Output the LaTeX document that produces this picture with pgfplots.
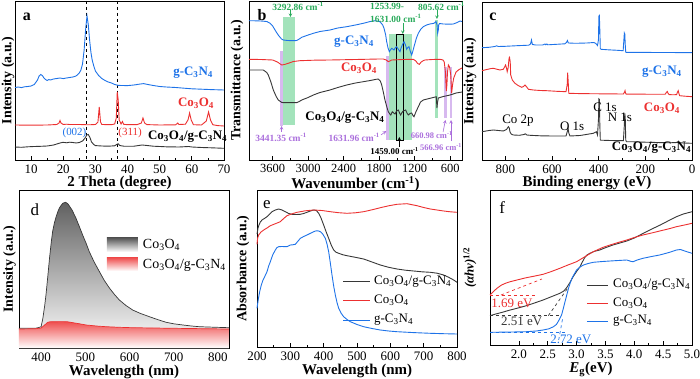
\documentclass[border=0pt]{standalone}
\usepackage{fontspec}
\setmainfont{Liberation Serif}
\usepackage{pgfplots}
\pgfplotsset{compat=1.18}
\definecolor{myblue}{RGB}{30,115,232}
\definecolor{myred}{RGB}{236,48,48}
\definecolor{mydark}{RGB}{55,55,55}
\definecolor{bandgreen}{RGB}{140,220,170}
\definecolor{bandpurple}{RGB}{205,168,235}
\definecolor{txtgreen}{RGB}{40,170,90}
\definecolor{txtpurple}{RGB}{170,110,220}
\newcommand{\CN}{g-C\textsubscript{3}N\textsubscript{4}}
\newcommand{\CO}{Co\textsubscript{3}O\textsubscript{4}}
\newcommand{\fs}[1]{\fontsize{#1}{#1}\selectfont}
\pgfplotsset{
  panel/.style={
    scale only axis, y dir=reverse, ytick=\empty, clip=false,
    xtick pos=left, tick align=inside, major tick length=4bp, minor tick length=2.2bp,
    minor x tick num=1,
    axis line style={line width=0.8bp},
    every tick/.style={black, line width=0.7bp},
    tick label style={font=\fs{13}},
    xticklabel style={anchor=north, inner sep=0pt, yshift=-5bp},
    /pgf/number format/assume math mode=true,
    /pgf/number format/1000 sep={},
    label style={font=\bfseries\fs{15}},
    xlabel style={at={(axis description cs:0.5,0)}, anchor=base, yshift=-27bp},
    ylabel style={font=\bfseries\fs{14}, inner sep=0.5bp},
    every axis plot/.append style={no marks, line width=0.9bp},
  },
}
\begin{document}
\begin{tikzpicture}
\path[use as bounding box] (0,0) rectangle (700bp,379bp);
% ---------------- a
\begin{axis}[panel, at={(15bp,219bp)}, anchor=south west, width=209bp, height=159bp,
  xmin=5, xmax=70, ymin=1, ymax=160, xtick={10,20,...,70},
  xlabel={2 Theta (degree)}, ylabel={Intensity (a.u.)},
  ylabel style={at={(axis description cs:0,0.5)}, anchor=south}]
\draw[dashed, black, line width=0.9bp] (axis cs:27.3,1) -- (axis cs:27.3,160);
\draw[dashed, black, line width=0.9bp] (axis cs:36.9,1) -- (axis cs:36.9,160);
\addplot[myblue] coordinates {(5,87.5)(6,87)(7,87.6)(8,86.8)(9,86.5)(10,86)(11,84.5)(12,80)(12.5,76)(13,74.5)(13.5,75.5)(14,78)(14.5,79.5)(15,80.5)(15.5,79.5)(16,80)(17,79)(18,78.5)(19,78)(20,78.6)(21,78)(22,77.5)(23,77)(24,76)(25,73)(25.5,70)(26,64)(26.5,50)(27,28)(27.4,16)(27.8,25)(28.2,40)(28.6,52)(29,60)(29.5,66)(30,71)(31,75.5)(32,78.5)(33,80.5)(34,82)(35,83)(36,84.5)(37,85.3)(38,85.5)(40,85.6)(42,85)(44,84)(45,83.6)(46,84.3)(48,85.5)(50,86.5)(52,87)(55,87.5)(58,88.3)(60,88.8)(63,89.2)(66,89.6)(70,90)};
\addplot[myred] coordinates {(5,125)(10,125.2)(15,125)(18,124.5)(18.7,123)(19,120.5)(19.3,123)(20,124.5)(21,124.2)(22,124.5)(25,124.5)(28,124.8)(30,124.5)(30.8,122)(31.2,107)(31.6,122)(32,124.5)(35,124.7)(36,124)(36.5,118)(36.8,92)(37.1,100)(37.4,120)(38,124)(38.4,121.5)(38.8,124.3)(40,124.7)(43,124.6)(44.3,123)(44.8,118)(45.3,123)(46,124.6)(50,125)(55,124.8)(55.6,123)(56,124.5)(58,124.2)(58.8,120)(59.3,113)(59.8,120)(60.5,124.7)(63,125)(64.5,121)(65.2,112)(65.8,120)(66.5,124.7)(68,125.6)(70,126)};
\addplot[mydark] coordinates {(5,147)(7,147.3)(9,146.8)(11,146.5)(13,146.3)(15,146)(17,145)(18,144)(19,143)(20,142.3)(21,142.8)(22,142.2)(23,142.5)(24,143)(25,142.5)(26,141)(26.8,138)(27.3,135)(27.8,134.5)(28.3,137.5)(28.8,142)(29.5,144.5)(30,145.6)(32,146)(34,146.2)(36,145.8)(36.7,144.3)(37.1,143.8)(37.6,145.5)(39,146.3)(42,146.2)(44.5,145)(45.5,145.3)(48,146.2)(52,146.8)(56,147)(59,146.5)(60,147)(63,147.5)(66,147.8)(70,148.3)};
\node[font=\bfseries\fs{16}] at (axis cs:8.7,17) {a};
\node[font=\bfseries\fs{13}, text=myblue] at (axis cs:60.4,73) {\CN};
\node[font=\bfseries\fs{13}, text=myred] at (axis cs:61.3,103) {\CO};
\node[font=\fs{11}, text=myblue] at (axis cs:23.5,133) {(002)};
\node[font=\fs{11}, text=myred] at (axis cs:40.8,133) {(311)};
\node[font=\bfseries\fs{13}] at (axis cs:58.7,136.5) {\CO/\CN};
\end{axis}
% ---------------- b
\begin{axis}[panel, at={(249bp,219bp)}, anchor=south west, width=213bp, height=159bp,
  xmin=400, xmax=4000, x dir=reverse, ymin=1, ymax=160, xtick={600,1200,...,3600},
  tick label style={font=\fs{12.5}},
  xticklabel style={yshift=1bp},
  xlabel={Wavenumber (cm\textsuperscript{-1})}, ylabel={Transmittance (a.u.)},
  xlabel style={yshift=-1.5bp},
  ylabel style={at={(axis description cs:-0.023,0.5)}, anchor=south}]
\fill[bandgreen, opacity=0.8] (axis cs:3420,17) rectangle (axis cs:3220,125);
\fill[bandpurple, opacity=0.8] (axis cs:3475,51) rectangle (axis cs:3425,126);
\fill[bandpurple, opacity=0.8] (axis cs:1690,56) rectangle (axis cs:1635,140);
\fill[bandgreen, opacity=0.8] (axis cs:1635,34) rectangle (axis cs:1250,140);
\fill[bandgreen, opacity=0.8] (axis cs:850,20) rectangle (axis cs:800,118);
\fill[bandpurple, opacity=0.8] (axis cs:700,67) rectangle (axis cs:660,118);
\fill[bandpurple, opacity=0.8] (axis cs:605,67) rectangle (axis cs:565,118);
\draw[black, line width=0.6bp] (axis cs:1515,34) rectangle (axis cs:1395,140);
\addplot[myblue] coordinates {(4000,20.7)(3900,20.8)(3800,21)(3700,21.5)(3650,23)(3600,26)(3550,31)(3500,35.5)(3450,39)(3420,40)(3350,40.5)(3250,40.7)(3194,40.5)(3150,39)(3109,37.3)(3000,35)(2913,33.3)(2800,31.5)(2631,30)(2500,28)(2349,26.7)(2200,25)(2068,23.3)(1950,21.5)(1870,20.7)(1786,21.7)(1740,25)(1718,28.3)(1690,35)(1673,41.7)(1650,48)(1628,51.7)(1610,50)(1588,48.3)(1570,49)(1549,50)(1525,47.5)(1504,46.7)(1476,49.3)(1448,51.7)(1430,48)(1409,45)(1380,41.7)(1355,45)(1335,49.3)(1315,47.5)(1296,46.7)(1270,52)(1250,55)(1230,51)(1211,46.7)(1170,38)(1138,33.3)(1100,29.5)(1054,26.7)(1000,25)(941,24)(873,23.3)(839,21.5)(822,25)(811,33.3)(800,30)(794,25)(780,23.5)(716,24)(600,24.2)(547,24)(480,22.5)(434,21)(400,21.5)};
\addplot[myred] coordinates {(4000,59.3)(3800,59.5)(3600,60)(3520,62)(3448,65)(3400,64.5)(3336,63.3)(3250,61.5)(3138,60.7)(2900,60.2)(2631,60)(2200,59.5)(1800,59)(1730,59)(1680,60)(1646,61.7)(1620,61)(1588,60)(1400,59.5)(1222,59.3)(1180,61)(1150,63.5)(1121,64.3)(1090,62)(1050,60.5)(1026,60)(900,59.5)(772,59.3)(720,60)(700,62)(680,72)(665,91)(655,85)(645,72)(630,65)(610,67)(590,75)(575,93)(560,85)(540,78)(500,72)(450,69.5)(400,68)};
\addplot[mydark] coordinates {(4000,70)(3900,70)(3758,70)(3700,72.5)(3674,75)(3630,82)(3589,90)(3540,96.5)(3505,100)(3450,102.3)(3420,102.7)(3300,102.7)(3194,102.7)(3150,101.5)(3109,100)(3000,97.5)(2913,95)(2800,92.5)(2631,90)(2500,87.5)(2349,85)(2200,83)(2068,81.7)(1950,80.5)(1850,79.3)(1814,79)(1780,81)(1757,85)(1730,92)(1702,100)(1670,107)(1646,111.7)(1620,114)(1603,115)(1578,111.7)(1555,113)(1532,114)(1505,111)(1476,110)(1455,113)(1437,115)(1415,112.5)(1392,111)(1352,110)(1330,113)(1307,115)(1280,113.5)(1250,113)(1230,115.5)(1211,116.7)(1180,112)(1138,106.7)(1100,102)(1054,100)(941,98.3)(873,97.3)(835,96.7)(823,108)(815,103)(800,98)(716,96.5)(600,95)(500,93)(400,92)};
\node[font=\bfseries\fs{16}] at (axis cs:3780,15) {b};
\node[font=\bfseries\fs{13}, text=myblue] at (axis cs:2225,42) {\CN};
\node[font=\bfseries\fs{13}, text=myred] at (axis cs:2141,68) {\CO};
\node[font=\bfseries\fs{13}] at (axis cs:2378,118) {\CO/\CN};
\node[font=\bfseries\fs{9.5}, text=txtgreen] at (axis cs:3172,6) {3292.86 cm\textsuperscript{-1}};
\draw[txtgreen, -stealth, line width=0.6bp] (axis cs:3300,10) -- (axis cs:3300,17);
\node[font=\bfseries\fs{9.5}, text=txtgreen, anchor=west, inner sep=0pt] at (axis cs:1955,6) {1253.99-};
\node[font=\bfseries\fs{9.5}, text=txtgreen, anchor=west, inner sep=0pt] at (axis cs:1955,18) {1631.00 cm\textsuperscript{-1}};
\draw[txtgreen, -stealth, line width=0.6bp] (axis cs:1400,23) -- (axis cs:1400,34);
\node[font=\bfseries\fs{9.5}, text=txtgreen, anchor=west, inner sep=0pt] at (axis cs:1144,6) {805.62 cm\textsuperscript{-1}};
\draw[txtgreen, -stealth, line width=0.6bp] (axis cs:823,10) -- (axis cs:823,19);
\node[font=\bfseries\fs{9.5}, text=txtpurple] at (axis cs:3459,137) {3441.35 cm\textsuperscript{-1}};
\draw[txtpurple, -stealth, line width=0.6bp] (axis cs:3450,132) -- (axis cs:3450,126);
\node[font=\bfseries\fs{9.5}, text=txtpurple, anchor=east, inner sep=0pt] at (axis cs:1786,137) {1631.96 cm\textsuperscript{-1}};
\draw[txtpurple, -stealth, line width=0.6bp] (axis cs:1770,135) -- (axis cs:1680,131);
\node[font=\bfseries\fs{9}] at (axis cs:1540,151) {1459.00 cm\textsuperscript{-1}};
\draw[black, -stealth, line width=0.6bp] (axis cs:1459,147) -- (axis cs:1459,137);
\node[font=\bfseries\fs{8.5}, text=txtpurple] at (axis cs:913,135) {660.98 cm\textsuperscript{-1}};
\draw[txtpurple, -stealth, line width=0.6bp] (axis cs:720,132) -- (axis cs:680,120);
\node[font=\bfseries\fs{8.5}, text=txtpurple, anchor=east, inner sep=0pt] at (axis cs:400,147.5) {566.96 cm\textsuperscript{-1}};
\draw[txtpurple, -stealth, line width=0.6bp] (axis cs:585,141) -- (axis cs:585,120);
\end{axis}
% ---------------- c
\begin{axis}[panel, at={(482bp,219bp)}, anchor=south west, width=210bp, height=158bp,
  xmin=0, xmax=900, x dir=reverse, ymin=2, ymax=160, xtick={0,200,...,800},
  xlabel={Binding energy (eV)}, ylabel={Intensity (a.u.)},
  ylabel style={at={(axis description cs:-0.024,0.5)}, anchor=south}]
\addplot[myblue] coordinates {(900,47.7)(870,47.3)(845,46.5)(837,45.8)(830,46.5)(800,46.3)(750,45.7)(700,45.2)(692,44)(688,40)(684,44.5)(670,45)(640,45)(630,44)(627,44.8)(622,44)(618,44.8)(580,44.3)(545,43.8)(538,42.5)(534,40.5)(530,43)(500,43.3)(450,43)(420,42.5)(412,43.5)(405,45.5)(401,40)(399,16)(397,15.5)(395,30)(393,48.5)(390,49.3)(360,49.8)(320,50.3)(295,50.7)(292,40)(290,33)(288,34)(286,45)(284,52.3)(250,52.4)(200,52.4)(150,52.5)(100,52.5)(50,52.6)(0,52.7)};
\addplot[myred] coordinates {(900,70.7)(880,69.5)(860,68.5)(851,68.3)(840,69)(823,70)(809,69.3)(803,67)(799,65)(795,68)(792,71.7)(788,68)(784,58)(782,57.3)(779,62)(777,75)(770,80)(759,83.3)(745,85.5)(730,87.3)(722,86.5)(716,85)(710,86.5)(701,89.3)(680,90)(650,90.5)(623,90.7)(580,91.3)(540,91.7)(535,85)(533,72.7)(531,80)(528,93.3)(480,93.6)(400,93.8)(294,94)(289,92)(287,90.7)(285,93)(282,94.2)(200,94.2)(150,94.3)(115,94.3)(110,92.5)(106,91.5)(102,93.5)(98,94.6)(80,94.8)(66,94.6)(62,92)(59,90.7)(56,93.5)(53,95.7)(30,96.2)(0,96.7)};
\addplot[mydark] coordinates {(900,131.7)(870,130.5)(851,130)(830,130.5)(809,131)(795,129.5)(787,126.7)(783,128)(780,132)(775,134)(766,135)(740,135.3)(720,134.5)(714,133.8)(708,135)(694,135.3)(650,135.8)(600,136)(540,136)(535,132)(531,128.3)(528,133)(523,136)(480,135.5)(423,133.3)(410,131.7)(405,135)(401,120)(399,99)(397,99.5)(395,125)(393,140)(390,140.2)(350,140.5)(294,140.7)(290,125)(288,113.3)(286,118)(284,140)(281,141.7)(250,141.8)(200,142.2)(100,142.8)(60,142.5)(58,141.5)(56,142.8)(0,143.3)};
\node[font=\bfseries\fs{16}] at (axis cs:853,17) {c};
\node[font=\bfseries\fs{13}, text=myblue] at (axis cs:129,72) {\CN};
\node[font=\bfseries\fs{13}, text=myred] at (axis cs:129,108) {\CO};
\node[font=\fs{13}] at (axis cs:746,121) {Co 2p};
\node[font=\fs{13}] at (axis cs:514,126) {O 1s};
\node[font=\fs{13}] at (axis cs:373,107) {C 1s};
\node[font=\fs{13}] at (axis cs:309,117) {N 1s};
\node[font=\bfseries\fs{13}, anchor=east, inner sep=0pt] at (axis cs:3,148) {\CO/\CN};
\end{axis}
% ---------------- d
\begin{axis}[panel, at={(19bp,31bp)}, anchor=south west, width=210bp, height=158bp,
  xmin=350, xmax=825, ymin=190, ymax=348, xtick={400,500,...,800},
  xlabel={Wavelength (nm)}, ylabel={Intensity (a.u.)},
  ylabel style={at={(axis description cs:-0.012,0.5)}, anchor=south}]
\addplot[draw=none, top color=black!62, bottom color=white] coordinates {(350,348)(350,328.3)(370,328.3)(388,328.2)(395,327.5)(400,326.7)(404,318.3)(408,306)(411,295)(415,277)(419,258.3)(423,242)(426,231.7)(430,223)(434,216.7)(438,211.5)(441,208.3)(445,205.5)(449,203.3)(455,202.3)(460,203.5)(464,206)(470,210)(479,218.3)(486,226)(494,235)(502,243.5)(509,251.7)(520,262)(532,271.7)(543,280.5)(555,288.3)(566,294.5)(577,300)(592,305.5)(607,310)(625,313.5)(645,316.7)(665,319.8)(683,322.3)(700,323.8)(721,325)(740,326)(758,326.7)(790,327.2)(825,327.7)(825,348)};
\addplot[mydark, line width=0.7bp] coordinates {(350,328.3)(370,328.3)(388,328.2)(395,327.5)(400,326.7)(404,318.3)(408,306)(411,295)(415,277)(419,258.3)(423,242)(426,231.7)(430,223)(434,216.7)(438,211.5)(441,208.3)(445,205.5)(449,203.3)(455,202.3)(460,203.5)(464,206)(470,210)(479,218.3)(486,226)(494,235)(502,243.5)(509,251.7)(520,262)(532,271.7)(543,280.5)(555,288.3)(566,294.5)(577,300)(592,305.5)(607,310)(625,313.5)(645,316.7)(665,319.8)(683,322.3)(700,323.8)(721,325)(740,326)(758,326.7)(790,327.2)(825,327.7)};
\addplot[draw=none, top color=myred!85, bottom color=white] coordinates {(350,348)(350,329)(388,328.7)(400,328)(404,326.5)(408,325)(412,323.5)(415,322.3)(420,321.8)(426,321.7)(449,321.6)(460,321.8)(472,322.7)(487,323.8)(502,325)(525,326)(547,326.7)(577,327.3)(607,327.7)(700,328.3)(825,329)(825,348)};
\addplot[myred, line width=0.7bp] coordinates {(350,329)(388,328.7)(400,328)(404,326.5)(408,325)(412,323.5)(415,322.3)(420,321.8)(426,321.7)(449,321.6)(460,321.8)(472,322.7)(487,323.8)(502,325)(525,326)(547,326.7)(577,327.3)(607,327.7)(700,328.3)(825,329)};
\node[font=\fs{17}] at (axis cs:386,210) {d};
\shade[top color=black!70, bottom color=white] (axis cs:549,237) rectangle (axis cs:619,252);
\shade[top color=myred!90, bottom color=white] (axis cs:549,257) rectangle (axis cs:619,271);
\node[font=\fs{14}, anchor=west, inner sep=0pt] at (axis cs:630,245) {\CO};
\node[font=\fs{14}, anchor=west, inner sep=0pt] at (axis cs:630,265) {\CO/\CN};
\end{axis}
% ---------------- e
\begin{axis}[panel, at={(257bp,32bp)}, anchor=south west, width=200bp, height=157bp,
  xmin=200, xmax=800, ymin=190, ymax=347, xtick={200,300,...,800},
  xlabel={Wavelength (nm)}, ylabel={Absorbance (a.u.)},
  ylabel style={at={(axis description cs:-0.035,0.5)}, anchor=south}]
\addplot[mydark] coordinates {(200,234)(203,228)(206,225)(210,222)(215,220)(222,218.5)(230,216.7)(238,214)(245,211.7)(255,210)(265,209)(275,210)(285,211.7)(295,213.5)(305,214.3)(318,214.5)(330,214.3)(340,213.5)(350,212.3)(360,211)(370,210)(378,210.5)(385,213.3)(392,218)(400,225)(407,231.5)(415,238.3)(422,244.5)(430,250)(437,252.2)(445,253.3)(458,254.8)(470,255.7)(495,257.3)(520,259)(545,262)(570,265)(595,267.3)(620,269)(645,270.2)(670,271)(695,271.8)(720,272.3)(740,273.2)(760,275)(775,277.3)(790,280)(800,282.3)};
\addplot[myred] coordinates {(200,244.3)(202,238)(205,235)(212,232)(220,230)(230,228)(240,225.7)(255,223.7)(270,221.7)(280,218.5)(290,215.7)(305,213.8)(320,212.3)(345,210.8)(370,210)(395,210.5)(420,211.7)(445,212.7)(470,213.3)(495,212.8)(520,211.7)(545,209.8)(570,207.7)(595,205.8)(620,204.3)(650,203.7)(680,205.7)(700,207.5)(720,209)(740,210)(760,211)(780,211.8)(800,212.3)};
\addplot[myblue] coordinates {(200,308.3)(204,299)(208,291.7)(213,285)(218,280)(224,276)(230,271.7)(235,266)(240,261.7)(247,255)(255,250)(260,247.5)(265,246.7)(275,246.5)(290,246.7)(300,245)(307,244.8)(315,244.3)(322,241.5)(330,238.3)(340,236.5)(350,235)(362,233)(375,231)(383,230.8)(390,231.7)(397,234)(405,238.3)(410,244)(415,251.7)(420,263)(425,275)(430,286)(435,295)(440,302.5)(445,308.3)(452,313)(460,316.7)(470,319.5)(480,321.7)(500,324.5)(520,326.7)(545,328.5)(570,330)(595,331)(620,331.7)(670,332.6)(720,333.3)(760,333.7)(800,334)};
\node[font=\fs{17}] at (axis cs:230,205) {e};
\draw[mydark, line width=0.9bp] (axis cs:458,281.7) -- (axis cs:539,281.7);
\draw[myred, line width=0.9bp] (axis cs:458,300) -- (axis cs:539,300);
\draw[myblue, line width=0.9bp] (axis cs:458,320) -- (axis cs:539,320);
\node[font=\fs{13}, anchor=west, inner sep=0pt] at (axis cs:551,281.7) {\CO/\CN};
\node[font=\fs{13}, anchor=west, inner sep=0pt] at (axis cs:551,300) {\CO};
\node[font=\fs{13}, anchor=west, inner sep=0pt] at (axis cs:551,320) {\CN};
\end{axis}
% ---------------- f
\begin{axis}[panel, at={(490bp,34bp)}, anchor=south west, width=202bp, height=155bp,
  xmin=1.5, xmax=5, ymin=190, ymax=345, xtick={2,2.5,...,5},
  xticklabel style={/pgf/number format/.cd, fixed, fixed zerofill, precision=1},
  xlabel={\textit{E}\textsubscript{g}(eV)}, ylabel={\fs{13}\textit{(αhν)}\textsuperscript{1/2}},
  ylabel style={at={(axis description cs:-0.064,0.5)}, anchor=south}]
\addplot[mydark] coordinates {(1.5,315.7)(1.6,314)(1.7,312.5)(1.85,310)(2.0,307.8)(2.13,305.7)(2.28,302.8)(2.42,300)(2.55,297)(2.71,293.3)(2.78,291)(2.83,287.5)(2.88,283)(2.94,276.7)(3.0,271.5)(3.06,266.7)(3.1,262)(3.14,257.7)(3.18,255)(3.23,253.3)(3.3,251.5)(3.4,250)(3.5,247.7)(3.63,245)(3.75,243)(3.87,241)(4.0,238)(4.1,235)(4.2,232)(4.33,228.3)(4.45,225)(4.56,221.7)(4.65,219)(4.73,216.7)(4.85,214)(5.0,211.7)};
\addplot[myred] coordinates {(1.5,295)(1.56,291.5)(1.62,288.3)(1.7,285)(1.78,283)(1.85,281.7)(2.0,279.5)(2.13,277.7)(2.28,276)(2.42,274.3)(2.55,271.8)(2.71,268.3)(2.85,265)(3.0,261.7)(3.15,256.5)(3.29,251.7)(3.45,247.5)(3.58,245)(3.72,242.5)(3.87,240)(4.0,237.5)(4.15,235)(4.3,233)(4.44,231)(4.6,228.8)(4.73,226.7)(4.87,225)(5.0,223.3)};
\addplot[myblue] coordinates {(1.5,332.3)(1.8,332.1)(2.13,331.7)(2.3,331)(2.42,330)(2.52,328.8)(2.6,326.7)(2.65,324.5)(2.68,321.7)(2.71,318.5)(2.74,315)(2.77,308.5)(2.8,301.7)(2.83,295)(2.86,288.3)(2.89,283)(2.92,278.3)(2.96,274)(3.0,270)(3.06,267)(3.12,265)(3.2,263.5)(3.29,262.3)(3.45,261.5)(3.58,261)(3.72,260.5)(3.87,260)(3.95,261.5)(3.98,261.7)(4.05,260)(4.15,258.3)(4.3,256.5)(4.44,255)(4.6,252.5)(4.73,250)(4.8,249.5)(4.9,251.5)(5.0,253.3)};
\draw[myred, dashed, line width=0.7bp] (axis cs:1.5,295) -- (axis cs:2.3,295);
\draw[myred, dashed, line width=0.7bp] (axis cs:1.69,295) -- (axis cs:2.4,279);
\draw[mydark, dashed, line width=0.7bp] (axis cs:1.5,315.7) -- (axis cs:2.72,315.7);
\draw[mydark, dashed, line width=0.7bp] (axis cs:2.51,315.7) -- (axis cs:2.86,287);
\draw[myblue, dashed, line width=0.7bp] (axis cs:1.5,332.3) -- (axis cs:2.8,332.3);
\draw[myblue, dashed, line width=0.7bp] (axis cs:2.69,340) -- (axis cs:2.76,318);
\node[font=\fs{13}, text=myred] at (axis cs:1.88,303) {1.69 eV};
\node[font=\fs{13}, text=mydark] at (axis cs:2.05,321.7) {2.51 eV};
\node[font=\fs{13}, text=myblue] at (axis cs:2.9,339) {2.72 eV};
\node[font=\fs{17}] at (axis cs:1.71,208) {f};
\draw[mydark, line width=0.9bp] (axis cs:3.18,285) -- (axis cs:3.54,285);
\draw[myred, line width=0.9bp] (axis cs:3.18,303.3) -- (axis cs:3.54,303.3);
\draw[myblue, line width=0.9bp] (axis cs:3.18,321) -- (axis cs:3.54,321);
\node[font=\fs{13}, anchor=west, inner sep=0pt] at (axis cs:3.63,285) {\CO/\CN};
\node[font=\fs{13}, anchor=west, inner sep=0pt] at (axis cs:3.63,303.3) {\CO};
\node[font=\fs{13}, anchor=west, inner sep=0pt] at (axis cs:3.63,321) {\CN};
\end{axis}
\end{tikzpicture}
\end{document}
